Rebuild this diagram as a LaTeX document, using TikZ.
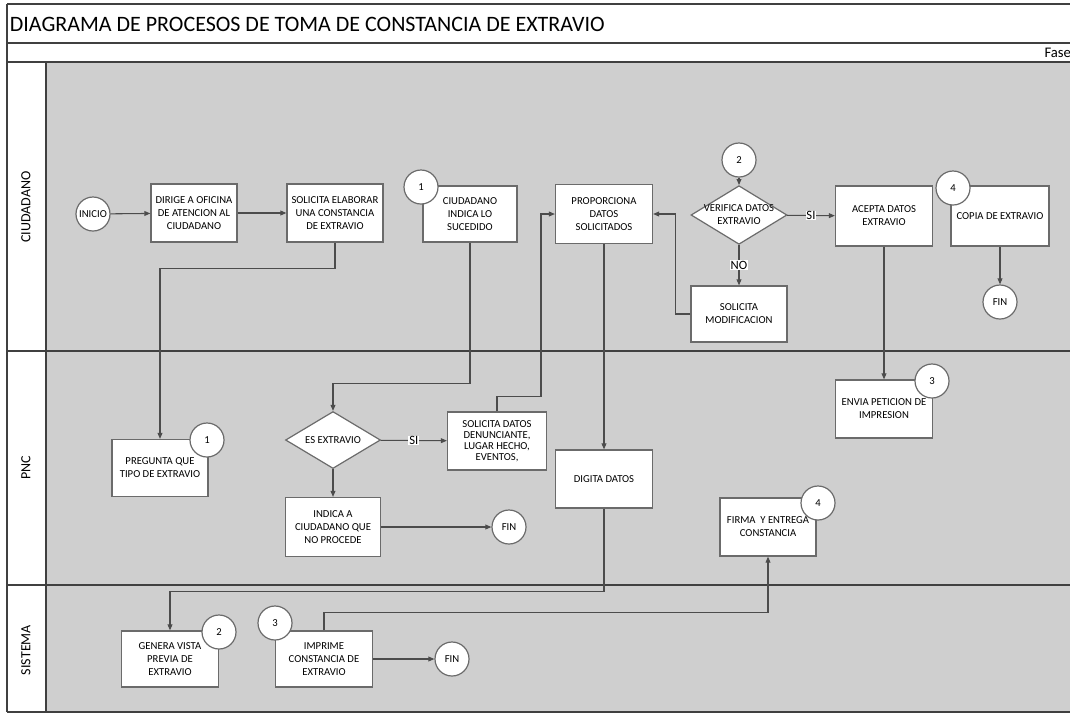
\documentclass[tikz,border=0pt]{standalone}
\usepackage{fontspec}
\setmainfont{Carlito}
\usetikzlibrary{arrows.meta,shapes.geometric}

\begin{document}
\begin{tikzpicture}[x=0.75pt,y=-0.75pt,line width=0.8pt,
  lane/.style={fill=black!19},
  rule/.style={draw=black!75},
  proc/.style={draw=black!58,fill=white,line width=0.9pt,minimum width=72.75pt,minimum height=43.5pt,inner sep=1pt,align=center,font=\fontsize{8}{9.75}\selectfont},
  dec/.style={draw=black!58,fill=white,line width=0.9pt,diamond,minimum width=72pt,minimum height=44pt,inner sep=0pt},
  dectext/.style={align=center,font=\fontsize{8}{9.75}\selectfont},
  conn/.style={draw=black!58,fill=white,line width=0.9pt,circle,minimum size=25.5pt,inner sep=0pt,font=\fontsize{8}{9.75}\selectfont},
  flow/.style={draw=black!70,-{Triangle[length=4.5pt,width=3.6pt]}},
  tag/.style={fill=white,inner sep=0.6pt,font=\fontsize{9.5}{10}\selectfont},
  lanename/.style={rotate=90,font=\fontsize{10.5}{12}\selectfont}]
\useasboundingbox (0,0) rectangle (1070,715);
\clip (0,0) rectangle (1070,715);
\fill[lane] (46,62) rectangle (1070,712);
\draw[rule] (7,4) -- (1070,4);
\draw[rule] (7,43) -- (1070,43);
\draw[rule] (7,62) -- (1070,62);
\draw[rule] (7,351) -- (1070,351);
\draw[rule] (7,585) -- (1070,585);
\draw[rule] (7,712) -- (1070,712);
\draw[rule] (7,4) -- (7,712);
\draw[rule] (46,62) -- (46,712);
\node[anchor=west,inner sep=1pt,font=\fontsize{16.5}{18}\selectfont] (titulo) at (8,24) {DIAGRAMA DE PROCESOS DE TOMA DE CONSTANCIA DE EXTRAVIO};
\node[anchor=west,inner sep=0pt,font=\fontsize{11}{12}\selectfont] (fase) at (1044,53) {Fase};
\node[lanename] (ciudadano) at (26,207) {CIUDADANO};
\node[lanename] (pnc) at (26,468) {PNC};
\node[lanename] (sistema) at (26,650) {SISTEMA};

\node[conn] (inicio) at (93,214) {INICIO};
\node[proc,minimum width=64.5pt] (dirige) at (194,213) {DIRIGE A OFICINA\\DE ATENCION AL\\CIUDADANO};
\node[proc,minimum width=72pt] (solicita) at (335,213) {SOLICITA ELABORAR\\UNA CONSTANCIA\\DE EXTRAVIO};
\node[proc,minimum width=70.5pt,minimum height=42pt] (indica) at (470,214) {CIUDADANO\\INDICA LO\\SUCEDIDO};
\node[proc,minimum height=44.25pt] (proporciona) at (604,214) {PROPORCIONA\\DATOS\\SOLICITADOS};
\node[dec,label={[dectext]center:VERIFICA DATOS\\EXTRAVIO}] (verifica) at (739,215) {};
\node[proc,minimum height=45pt] (acepta) at (884,216) {ACEPTA DATOS\\EXTRAVIO};
\node[proc,minimum width=73.5pt,minimum height=45pt] (copia) at (1000,216) {COPIA DE EXTRAVIO};
\node[conn] (fin1) at (1000,302) {FIN};
\node[proc,minimum width=72pt,minimum height=42pt] (solmod) at (739,314) {SOLICITA\\MODIFICACION};

\node[proc,minimum width=72pt,minimum height=42.75pt] (pregunta) at (160,468) {PREGUNTA QUE\\TIPO DE EXTRAVIO};
\node[dec,minimum width=71.25pt,minimum height=42.75pt,label={[dectext]center:ES EXTRAVIO}] (esextravio) at (333,440) {};
\node[proc,minimum width=74.25pt,font=\fontsize{8}{8.25}\selectfont] (soldatos) at (497,441) {SOLICITA DATOS\\DENUNCIANTE,\\LUGAR HECHO,\\EVENTOS,};
\node[proc,minimum width=71.25pt,minimum height=44.25pt] (noprocede) at (333,527) {INDICA A\\CIUDADANO QUE\\NO PROCEDE};
\node[conn] (fin2) at (509,527) {FIN};
\node[proc] (digita) at (604,479) {DIGITA DATOS};
\node[proc] (envia) at (884,409) {ENVIA PETICION DE\\IMPRESION};
\node[proc,minimum width=72pt] (firma) at (768,527) {FIRMA~ Y ENTREGA\\CONSTANCIA};

\node[proc,minimum height=42pt] (genera) at (170,659) {GENERA VISTA\\PREVIA DE\\EXTRAVIO};
\node[proc,minimum height=42pt] (imprime) at (324,659) {IMPRIME\\CONSTANCIA DE\\EXTRAVIO};
\node[conn] (fin3) at (452,659) {FIN};

\node[conn] (c1a) at (421,187) {1};
\node[conn] (c2a) at (739,160) {2};
\node[conn] (c4a) at (953,188) {4};
\node[conn] (c1b) at (207,440) {1};
\node[conn] (c3a) at (932,381) {3};
\node[conn] (c4b) at (818,503) {4};
\node[conn] (c2b) at (219,632) {2};
\node[conn] (c3b) at (275,623) {3};

\draw[flow] (inicio) -- (dirige);
\draw[flow] (dirige) -- (solicita);
\draw[flow] (solicita.south) -- ++(0,26) -| (pregunta.north);
\draw[flow] (indica.south) -- ++(0,141) -| (esextravio.north);
\draw[flow] (esextravio) -- node[tag] {SI} (soldatos);
\draw[flow] (esextravio) -- (noprocede);
\draw[flow] (noprocede) -- (fin2);
\draw[flow] (soldatos.north) -- ++(0,-15) -- ++(44,0) |- (proporciona.west);
\draw[flow] (proporciona) -- (digita);
\draw[flow] (c2a) -- (verifica);
\draw[flow] (verifica) -- node[tag] {SI} (acepta);
\draw[flow] (verifica) -- node[tag] {NO} (solmod);
\draw[flow] (solmod.west) -- ++(-15,0) |- (proporciona.east);
\draw[flow] (acepta) -- (envia);
\draw[flow] (copia) -- (fin1);
\draw[flow] (digita.south) -- ++(0,83) -| (genera.north);
\draw[flow] (imprime.north) -- ++(0,-18) -| (firma.south);
\draw[flow] (imprime) -- (fin3);
\end{tikzpicture}
\end{document}
